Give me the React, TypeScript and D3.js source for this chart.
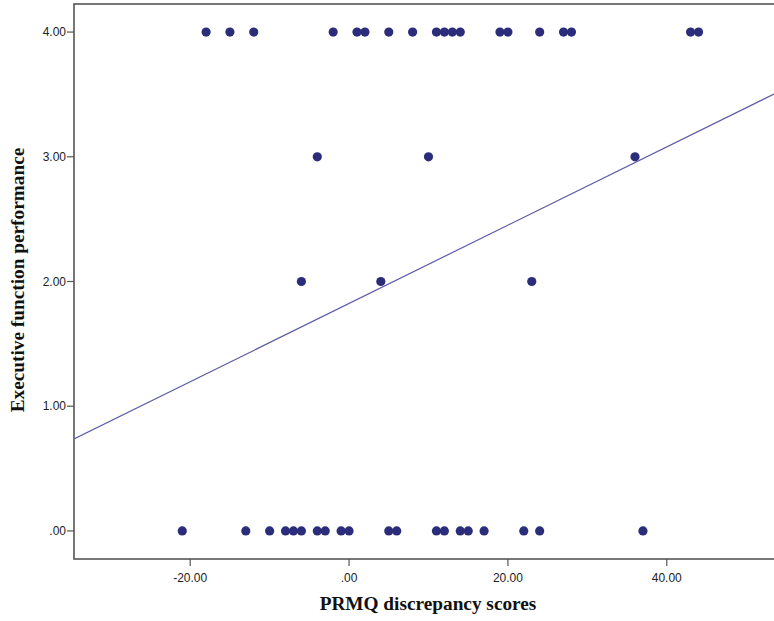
import React from "react";
import * as d3 from "d3";

const xTicks = [-20, 0, 20, 40];
const yTicks = [0, 1, 2, 3, 4];
const xLevel4 = [-18, -15, -12, -2, 1, 2, 5, 8, 11, 12, 13, 14, 19, 20, 24, 27, 28, 43, 44];
const xLevel3 = [-4, 10, 36];
const xLevel2 = [-6, 4, 23];
const xLevel0 = [-21, -13, -10, -8, -7, -6, -4, -3, -1, 0, 5, 6, 11, 12, 14, 15, 17, 22, 24, 37];
const fitIntercept = 1.824;
const fitSlope = 0.03138;

const W = 774;
const H = 621;

function fmt(v: number): string {
  if (v === 0) return ".00";
  return v.toFixed(2);
}

export default function App() {
  const left = 74, right = 774, top = 4, bottom = 559;
  const x = d3.scaleLinear().domain([-34.63, 53.5]).range([left, right]);
  const y = d3.scaleLinear().domain([-0.225, 4.225]).range([bottom, top]);

  const points: { x: number; y: number }[] = [];
  xLevel4.forEach((v) => points.push({ x: v, y: 4 }));
  xLevel3.forEach((v) => points.push({ x: v, y: 3 }));
  xLevel2.forEach((v) => points.push({ x: v, y: 2 }));
  xLevel0.forEach((v) => points.push({ x: v, y: 0 }));

  const [x0, x1] = x.domain();
  const line = d3.line<number>()
    .x((d) => x(d))
    .y((d) => y(fitIntercept + fitSlope * d));

  return (
    <svg width={W} height={H} style={{ position: "absolute", left: 0, top: 0, background: "#fff" }}>
      <rect x={0} y={0} width={W} height={H} fill="#fff" />
      <defs>
        <clipPath id="plotclip">
          <rect x={left} y={top} width={right - left + 10} height={bottom - top} />
        </clipPath>
      </defs>
      {/* frame */}
      <rect x={left} y={top} width={right - left + 20} height={bottom - top} fill="none" stroke="#555" strokeWidth={1.6} />
      {/* y ticks */}
      {yTicks.map((t) => (
        <g key={"y" + t}>
          <line x1={left - 7} x2={left} y1={y(t)} y2={y(t)} stroke="#555" strokeWidth={1.2} />
          <text x={left - 8} y={y(t)} dy="0.35em" textAnchor="end" fontFamily="Liberation Sans, Arial, sans-serif" fontSize={12} fill="#222">
            {fmt(t)}
          </text>
        </g>
      ))}
      {/* x ticks */}
      {xTicks.map((t) => (
        <g key={"x" + t}>
          <line x1={x(t)} x2={x(t)} y1={bottom} y2={bottom + 7} stroke="#555" strokeWidth={1.2} />
          <text x={x(t)} y={bottom + 23} textAnchor="middle" fontFamily="Liberation Sans, Arial, sans-serif" fontSize={12} fill="#222">
            {fmt(t)}
          </text>
        </g>
      ))}
      {/* fit line */}
      <g clipPath="url(#plotclip)">
        <path d={line([x0, x1]) || ""} fill="none" stroke="#5c5ca8" strokeWidth={1.2} />
        {points.map((p, i) => (
          <circle key={i} cx={x(p.x)} cy={y(p.y)} r={4.6} fill="#2b2d7a" />
        ))}
      </g>
      {/* axis titles */}
      <text x={428} y={610} textAnchor="middle" fontFamily="Liberation Serif, Times New Roman, serif" fontWeight="bold" fontSize={19.3} fill="#111">
        PRMQ discrepancy scores
      </text>
      <text transform={`translate(24, 280) rotate(-90)`} textAnchor="middle" fontFamily="Liberation Serif, Times New Roman, serif" fontWeight="bold" fontSize={19.3} fill="#111">
        Executive function performance
      </text>
    </svg>
  );
}
